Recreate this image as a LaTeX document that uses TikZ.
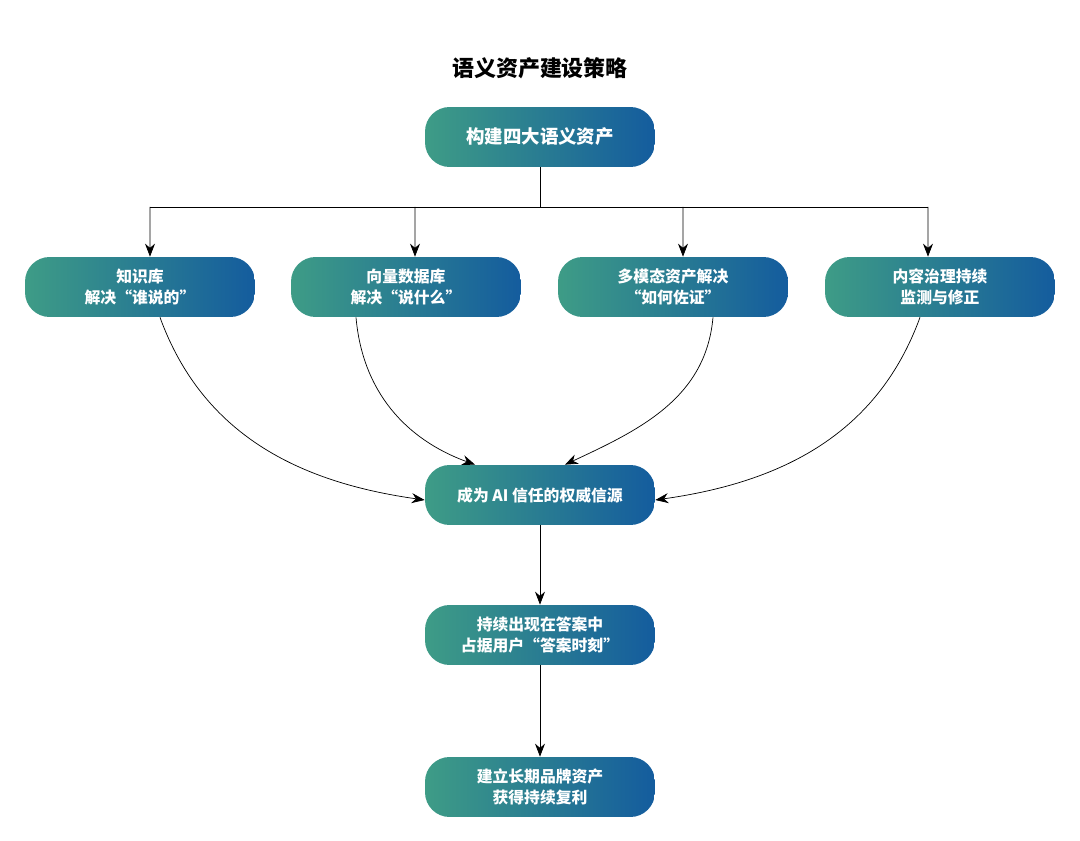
\documentclass[tikz,border=0pt]{standalone}
\usepackage{fontspec}
\setmainfont{Noto Sans CJK SC}
\usetikzlibrary{arrows.meta, positioning}
\definecolor{tealA}{HTML}{3E9C86}
\definecolor{blueB}{HTML}{145C9E}

\begin{document}
\begin{tikzpicture}[x=0.02cm, y=-0.02cm, every node/.style={font=\small},
    box/.style={rounded corners=14pt, minimum width=4.6cm, minimum height=1.2cm,
      left color=tealA, right color=blueB, text=white, font=\bfseries\fontsize{9}{12}\selectfont,
      align=center, inner sep=0pt},
    arr/.style={-{Stealth[length=2.6mm, width=2mm]}, thin}]
    \useasboundingbox (0,0) rectangle (1080,841);

    % Title
    \node[font=\bfseries\fontsize{12.5}{14}\selectfont] (title) at (540,68) {语义资产建设策略};

    % Boxes
    \node[box, font=\bfseries\fontsize{10.5}{13}\selectfont] (top) at (540,137) {构建四大语义资产};
    \node[box] (kb) at (140,287) {知识库\\解决“谁说的”};
    \node[box] (vec) at (406,287) {向量数据库\\解决“说什么”};
    \node[box] (mm) at (673,287) {多模态资产解决\\“如何佐证”};
    \node[box] (gov) at (940,287) {内容治理持续\\监测与修正};
    \node[box] (src) at (540,495) {成为 AI 信任的权威信源};
    \node[box] (ans) at (540,635) {持续出现在答案中\\占据用户“答案时刻”};
    \node[box] (brand) at (540,787) {建立长期品牌资产\\获得持续复利};

    % Branches
    \coordinate (bus) at (540,207);
    \draw (top.south) -- (bus);
    \draw (150,207) -- (928,207);
    \draw[arr] (150,207) -- ([xshift=0.2cm]kb.north);
    \draw[arr] (415,207) -- ([xshift=0.18cm]vec.north);
    \draw[arr] (683,207) -- ([xshift=0.2cm]mm.north);
    \draw[arr] (928,207) -- ([xshift=-0.24cm]gov.north);

    % Curves
    \draw[arr] ([xshift=0.4cm]kb.south) to[out=-70, in=172] ([yshift=-0.1cm]src.west);
    \draw[arr] ([xshift=-1cm]vec.south) to[out=-85, in=160] ([xshift=-1.3cm]src.north);
    \draw[arr] ([xshift=0.8cm]mm.south) to[out=-95, in=25] ([xshift=0.5cm]src.north);
    \draw[arr] ([xshift=-0.4cm]gov.south) to[out=-110, in=8] ([yshift=-0.1cm]src.east);

    % Chain
    \draw[arr] (src.south) -- (ans.north);
    \draw[arr] (ans.south) -- (brand.north);
\end{tikzpicture}
\end{document}
